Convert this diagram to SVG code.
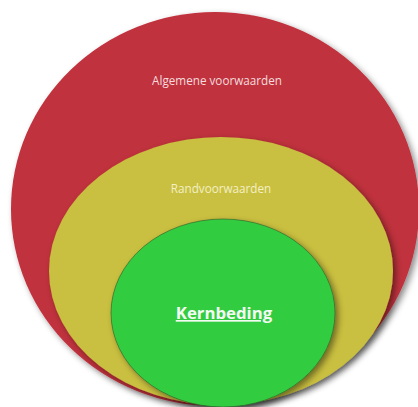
<svg xmlns="http://www.w3.org/2000/svg" width="418" height="407" viewBox="0 0 418 407">
<defs>
<filter id="sh" x="-10%" y="-10%" width="125%" height="125%">
<feDropShadow dx="3" dy="3" stdDeviation="3" flood-color="#000" flood-opacity="0.45"/>
</filter>
</defs>
<style>
.lbl{font-family:"Open Sans","Liberation Sans",sans-serif;text-anchor:middle}
</style>
<rect width="418" height="407" fill="#fff"/>
<g id="algemene">
<ellipse cx="215" cy="209" rx="204" ry="197" fill="#C0303C" filter="url(#sh)"/>
<text class="lbl" x="217" y="85" font-size="11.7" fill="#F3DCDE">Algemene voorwaarden</text>
</g>
<g id="rand">
<ellipse cx="221" cy="271" rx="172" ry="134" fill="#C9BF3F" filter="url(#sh)"/>
<text class="lbl" x="221" y="193" font-size="11.7" fill="#F4F0C4">Randvoorwaarden</text>
</g>
<g id="kern">
<ellipse cx="223" cy="313" rx="112" ry="94" fill="#33CC40" stroke="#2a5a2a" stroke-width="0.6" filter="url(#sh)"/>
<text class="lbl" x="224" y="319" font-size="16.8" font-weight="bold" fill="#F4FBF4" text-decoration="underline">Kernbeding</text>
</g>
<g id="connectors"/>
</svg>
